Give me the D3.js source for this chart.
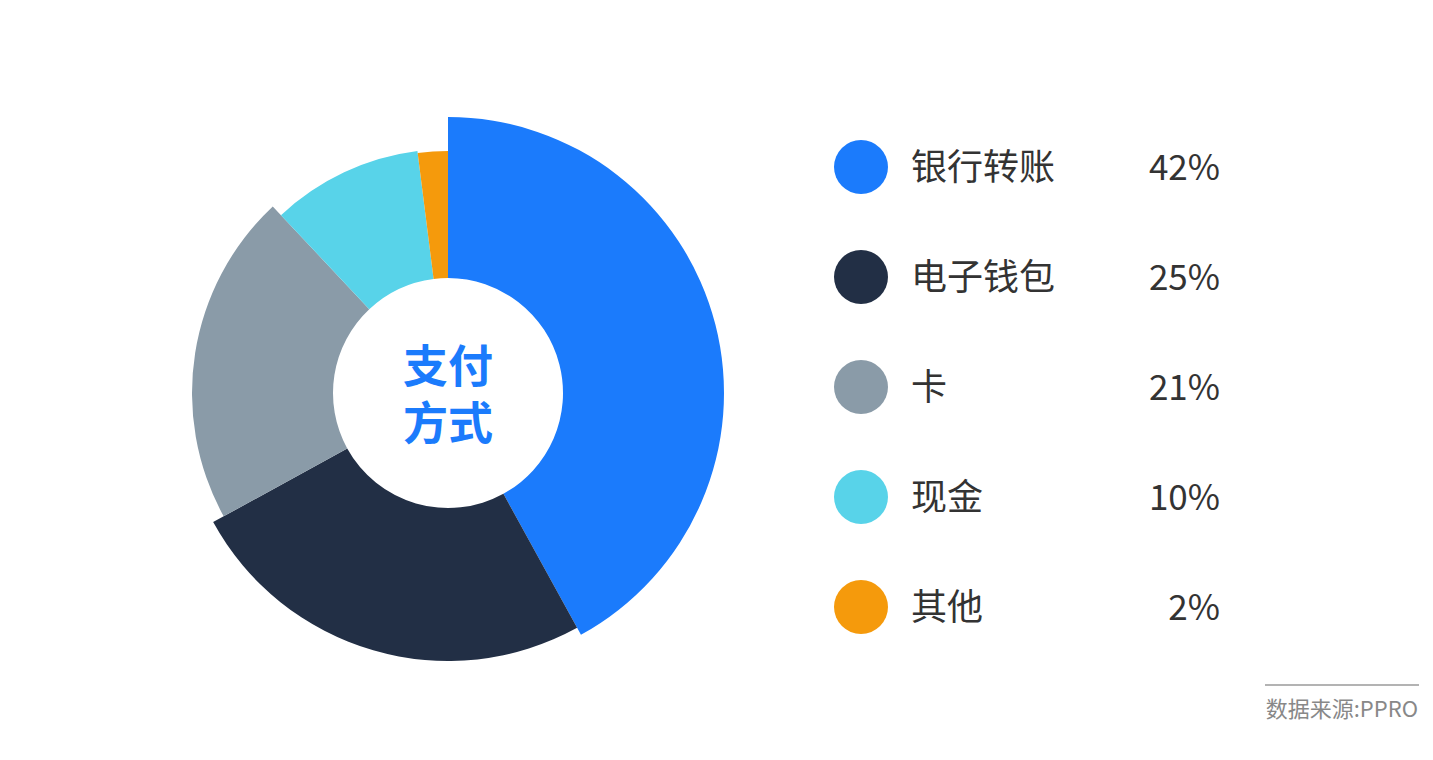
<!DOCTYPE html>
<html>
<head>
<meta charset="utf-8">
<script src="https://cdn.jsdelivr.net/npm/d3@7"></script>
<style>
  body { margin: 0; background: #fff; }
  text { font-family: "Noto Sans CJK SC", "Noto Sans", sans-serif; }
</style>
</head>
<body>
<div id="chart"></div>
<script>
const categories = ["银行转账", "电子钱包", "卡", "现金", "其他"];
const shares = [42, 25, 21, 10, 2];
const centerLabel = ["支付", "方式"];
const sourceNote = "数据来源:PPRO";

const width = 1433, height = 760;
const cx = 448, cy = 393;
const innerR = 115;

let svg = d3.select("#chart")
    .append("svg")
    .attr("width", width)
    .attr("height", height);

let color = d3.scaleOrdinal()
    .domain(categories)
    .range(["#1b7bfc", "#222f45", "#8a9ba8", "#58d3e9", "#f59a0c"]);

// each slice gets its own outer radius, biggest first
let outerR = d3.scaleOrdinal()
    .domain(categories)
    .range([276, 268, 256, 244, 242]);

let data = categories.map((c, i) => ({ name: c, value: shares[i] }));

let pie = d3.pie()
    .sort(null)
    .value(d => d.value);

let arc = d3.arc()
    .innerRadius(innerR)
    .outerRadius(d => outerR(d.data.name));

let donut = svg.append("g")
    .attr("transform", `translate(${cx}, ${cy})`);

donut.selectAll("path")
    .data(pie(data))
    .enter()
    .append("path")
    .attr("d", arc)
    .attr("fill", d => color(d.data.name));

// center title, two lines in one text element
let title = donut.append("text")
    .style("text-anchor", "middle")
    .style("font-size", "45px")
    .style("font-weight", "bold")
    .style("fill", "#1b7bfc");

title.selectAll("tspan")
    .data(centerLabel)
    .enter()
    .append("tspan")
    .attr("x", 0)
    .attr("y", (d, i) => i == 0 ? -26 : 31)
    .attr("dy", "0.36em")
    .text(d => d);

// legend
let y = d3.scaleBand()
    .domain(categories)
    .range([112, 662])
    .paddingInner(0);

let legend = svg.append("g");

let rows = legend.selectAll("g")
    .data(data)
    .enter()
    .append("g")
    .attr("transform", d => `translate(0, ${y(d.name) + y.bandwidth() / 2})`);

rows.append("circle")
    .attr("cx", 861)
    .attr("cy", 0)
    .attr("r", 27)
    .attr("fill", d => color(d.name));

rows.append("text")
    .attr("x", 911)
    .attr("dy", "0.36em")
    .style("font-size", "36px")
    .style("fill", "#333")
    .text(d => d.name);

rows.append("text")
    .attr("x", 1220)
    .attr("dy", "0.36em")
    .style("text-anchor", "end")
    .style("font-size", "35px")
    .style("fill", "#333")
    .text(d => d.value + "%");

// source note
svg.append("line")
    .attr("x1", 1265)
    .attr("x2", 1419)
    .attr("y1", 685)
    .attr("y2", 685)
    .style("stroke", "#9a9a9a")
    .style("stroke-width", 1.5);

svg.append("text")
    .attr("x", 1418)
    .attr("y", 717)
    .style("text-anchor", "end")
    .style("font-size", "22px")
    .style("fill", "#888")
    .text(sourceNote);
</script>
</body>
</html>
